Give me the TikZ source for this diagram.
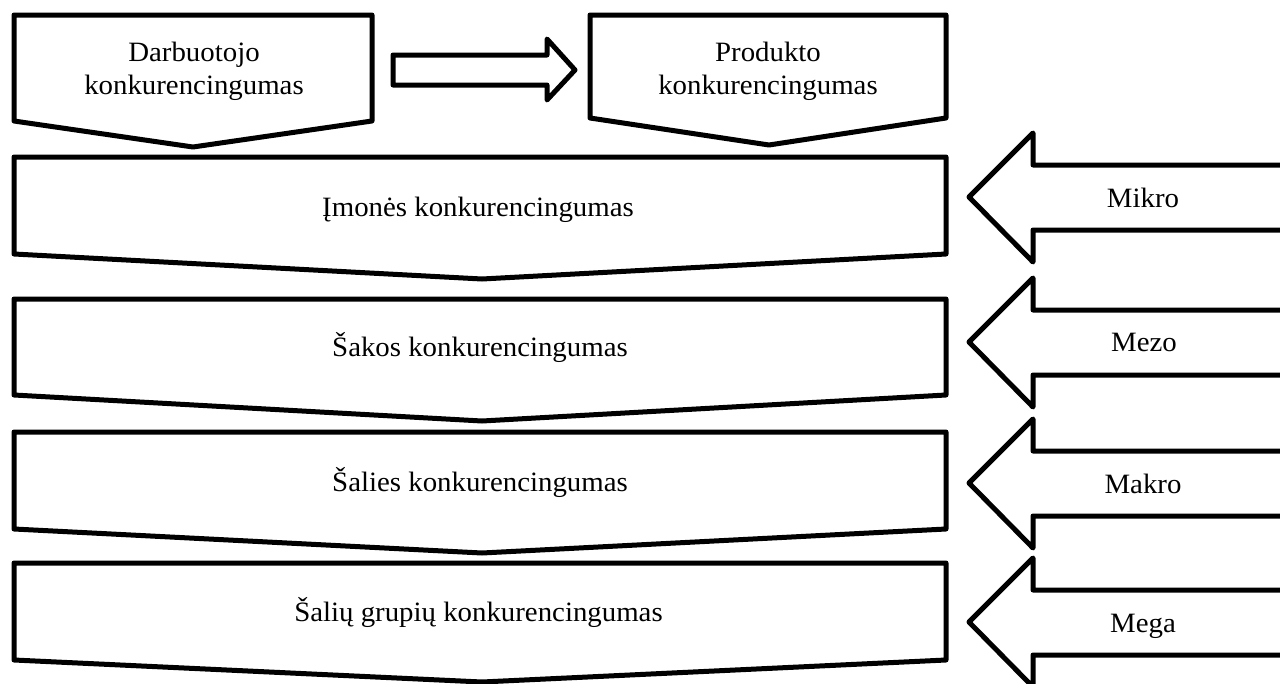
\documentclass[tikz,border=0pt]{standalone}
\usepackage{fontspec}
\setmainfont{Liberation Serif}[FakeStretch=1.03]
\begin{document}
\begin{tikzpicture}[x=1pt,y=-1pt,
  shp/.style={draw=black, line width=5pt, line join=round, fill=white},
  lbl/.style={font=\fontsize{28}{32.6}\selectfont, align=center, inner sep=0pt},
  bl/.style={lbl, anchor=base}]
\useasboundingbox (0,0) rectangle (1280,683);
\fill[white] (0,0) rectangle (1280,683);
\clip (0,0) rectangle (1280,683);
% top boxes
\draw[shp] (14,15) -- (372,15) -- (372,121) -- (193,147) -- (14,121) -- cycle;
\draw[shp] (590,15) -- (946,15) -- (946,118) -- (769,145) -- (590,118) -- cycle;
% hollow arrow between
\draw[shp] (393,55) -- (547,55) -- (547,39) -- (575,70) -- (547,100) -- (547,85) -- (393,85) -- cycle;
% level boxes
\draw[shp] (14,157) -- (946,157) -- (946,254) -- (482,279) -- (14,254) -- cycle;
\draw[shp] (14,299) -- (946,299) -- (946,395) -- (482,421) -- (14,395) -- cycle;
\draw[shp] (14,432) -- (946,432) -- (946,529) -- (482,553) -- (14,529) -- cycle;
\draw[shp] (14,563) -- (946,563) -- (946,660) -- (482,682) -- (14,660) -- cycle;
% right arrows
\foreach \t in {197,342,483,622}{
  \draw[shp] (1300,\t-32) -- (1033,\t-32) -- (1033,\t-64) -- (969,\t) -- (1033,\t+65) -- (1033,\t+33) -- (1300,\t+33);
}
% labels
\node[lbl] (darb) at (194,71.5) {Darbuotojo\\konkurencingumas};
\node[lbl] (prod) at (768,71.5) {Produkto\\konkurencingumas};
\node[bl] (imon) at (478,216.7) {Įmonės konkurencingumas};
\node[bl] (sako) at (480,356.7) {Šakos konkurencingumas};
\node[bl] (sali) at (480,491.7) {Šalies konkurencingumas};
\node[bl] (salg) at (478.5,621) {Šalių grupių konkurencingumas};
\node[bl] (mikr) at (1143,207) {Mikro};
\node[bl] (mezo) at (1144,351.7) {Mezo};
\node[bl] (makr) at (1143,493.3) {Makro};
\node[bl] (mega) at (1143,632) {Mega};
\end{tikzpicture}
\end{document}
